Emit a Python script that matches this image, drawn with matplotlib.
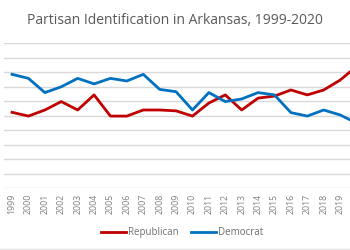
import matplotlib
matplotlib.use("Agg")
import matplotlib.pyplot as plt
from matplotlib.lines import Line2D
import numpy as np

years = [str(y) for y in range(1999, 2021)]
republican = [26.1, 24.8, 26.9, 29.8, 26.9, 32.1, 24.8, 24.8, 26.9, 26.9, 26.6,
              24.8, 29.3, 32.1, 26.9, 31.0, 31.7, 33.8, 32.1, 33.8, 37.2, 41.9]
democrat = [39.2, 37.8, 32.9, 34.9, 37.8, 35.9, 37.8, 36.9, 39.2, 34.0, 33.2,
            26.9, 32.9, 29.8, 30.7, 32.9, 32.1, 26.0, 24.8, 26.9, 25.2, 22.4]

grey = '#595959'
plt.rcParams['font.family'] = ['Open Sans', 'DejaVu Sans']

fig = plt.figure(figsize=(3.5, 2.5), dpi=100)
ax = fig.add_axes([0.011, 0.248, 1.031, 0.58])

x = np.arange(len(years))
ax.plot(x, republican, color='#C00000', lw=2.0, label='Republican')
ax.plot(x, democrat, color='#0070C0', lw=2.0, label='Democrat')

ax.set_xlim(-0.5, len(years) - 0.5)
ax.set_ylim(0, 50)
ax.set_yticks(np.arange(0, 51, 5))
ax.yaxis.grid(True, color='#D9D9D9', lw=1)
ax.set_axisbelow(True)
ax.tick_params(axis='y', left=False, labelleft=False)
ax.set_xticks(x)
ax.set_xticklabels(years, rotation=90, fontsize=6.3, color='#7f7f7f')
ax.tick_params(axis='x', length=0, pad=4)
# the last year falls outside the cropped picture
ax.get_xticklabels()[-1].set_visible(False)
for s in ax.spines.values():
    s.set_visible(False)

fig.text(0.5, 1 - 20 / 250, 'Partisan Identification in Arkansas, 1999-2020',
         ha='center', va='center', fontsize=10, color=grey)

fig.legend(loc='center', bbox_to_anchor=(182 / 350, 1 - 232.7 / 250), ncol=2,
           frameon=False, fontsize=7, labelcolor='#6f6f6f', handlelength=2.6,
           handletextpad=0.2, columnspacing=1.2)

# chart frame edge at the bottom of the crop
fig.add_artist(Line2D([0, 1], [0.006, 0.006], color='#E4E4E4', lw=1,
                      transform=fig.transFigure))

fig.savefig('out.png', dpi=100)
